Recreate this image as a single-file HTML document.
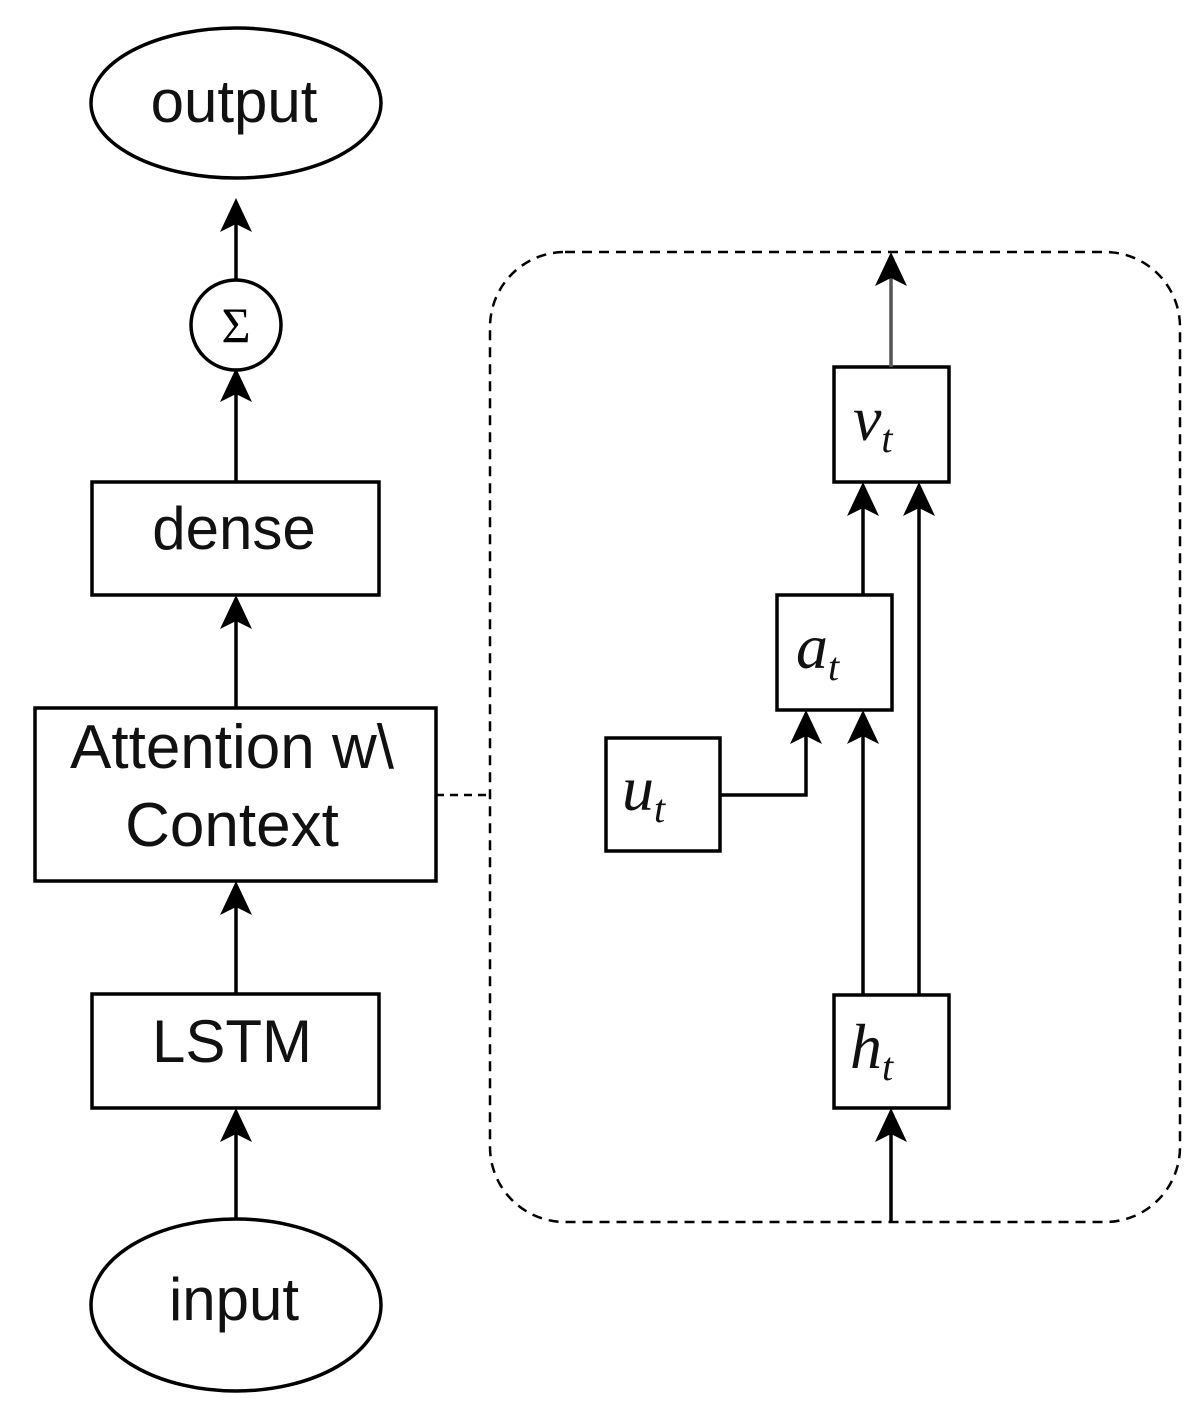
<!DOCTYPE html>
<html><head><meta charset="utf-8"><style>
html,body{margin:0;padding:0;background:#fff;}
svg{display:block;}
</style></head><body>
<svg width="1202" height="1413" viewBox="0 0 1202 1413" xmlns="http://www.w3.org/2000/svg">
<g fill="none" stroke="#000" stroke-width="3.5">
<ellipse cx="236" cy="103" rx="145" ry="75"/>
<circle cx="236" cy="325" r="45"/>
<rect x="92" y="482" width="287" height="113"/>
<rect x="35" y="708" width="401" height="173"/>
<rect x="92" y="994" width="287" height="114"/>
<ellipse cx="236" cy="1305" rx="145" ry="86"/>
<line x1="236" y1="280" x2="236" y2="215"/>
<line x1="236" y1="482" x2="236" y2="385"/>
<line x1="236" y1="708" x2="236" y2="610"/>
<line x1="236" y1="994" x2="236" y2="896"/>
<line x1="236" y1="1219" x2="236" y2="1123"/>
<rect x="490" y="252" width="690" height="970" rx="75" ry="75" stroke-dasharray="10,7" stroke-width="2.5"/>
<line x1="436" y1="795" x2="490" y2="795" stroke-dasharray="8,6" stroke-width="2.5"/>
<rect x="834" y="367" width="115" height="115"/>
<rect x="777" y="595" width="115" height="115"/>
<rect x="606" y="738" width="114" height="113"/>
<rect x="834" y="995" width="115" height="113"/>
<line x1="891" y1="367" x2="891" y2="270" stroke="#555"/>
<line x1="863" y1="595" x2="863" y2="497"/>
<line x1="919" y1="995" x2="919" y2="497"/>
<line x1="863" y1="995" x2="863" y2="725"/>
<polyline points="720,795 806,795 806,725"/>
<line x1="891" y1="1222" x2="891" y2="1123"/>
</g>
<g fill="#000">
<path d="M236 198 L252 232 L236 224 L220 232 Z"/>
<path d="M236 368 L252 402 L236 394 L220 402 Z"/>
<path d="M236 595 L252 629 L236 621 L220 629 Z"/>
<path d="M236 881 L252 915 L236 907 L220 915 Z"/>
<path d="M236 1108 L252 1142 L236 1134 L220 1142 Z"/>
<path d="M891 252 L907 286 L891 278 L875 286 Z"/>
<path d="M863 482 L879 516 L863 508 L847 516 Z"/>
<path d="M919 482 L935 516 L919 508 L903 516 Z"/>
<path d="M806 710 L822 744 L806 736 L790 744 Z"/>
<path d="M863 710 L879 744 L863 736 L847 744 Z"/>
<path d="M891 1108 L907 1142 L891 1134 L875 1142 Z"/>
</g>
<g font-family="Liberation Sans, sans-serif" font-size="60" text-anchor="middle" fill="#111">
<text x="234" y="122">output</text>
<text x="234" y="549">dense</text>
<text x="232" y="768" font-size="62">Attention w\</text>
<text x="232" y="846" font-size="62">Context</text>
<text x="232" y="1062">LSTM</text>
<text x="234" y="1320">input</text>
</g>
<text x="236" y="342" font-family="Liberation Serif, serif" font-size="50" text-anchor="middle">Σ</text>
<g font-family="Liberation Serif, serif" font-style="italic" font-size="64" fill="#111">
<text x="853" y="440">v<tspan font-size="40" dy="12">t</tspan></text>
<text x="796" y="668">a<tspan font-size="40" dy="12">t</tspan></text>
<text x="622" y="810">u<tspan font-size="40" dy="12">t</tspan></text>
<text x="850" y="1068">h<tspan font-size="40" dy="12">t</tspan></text>
</g>
</svg>
</body></html>
